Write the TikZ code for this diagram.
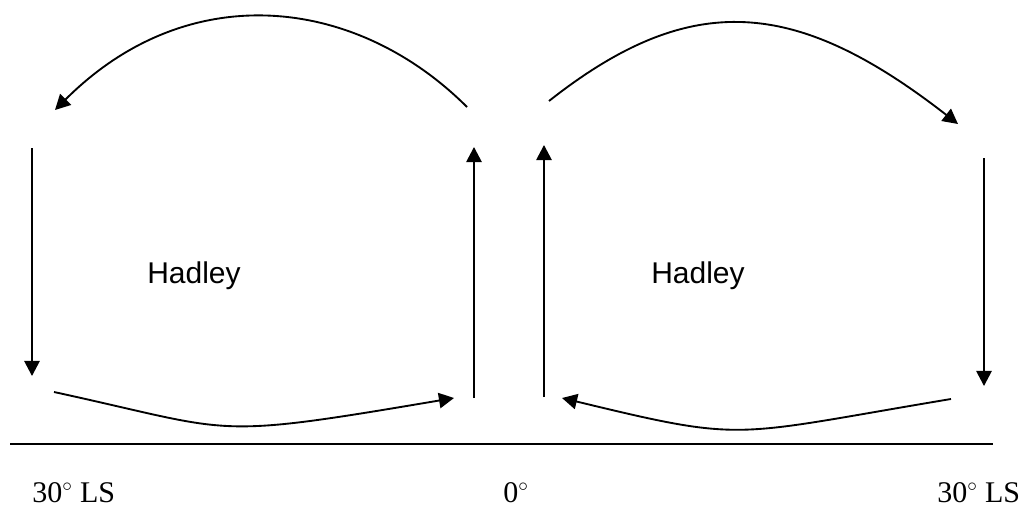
\documentclass[tikz,border=0pt]{standalone}
\usepackage{fontspec}
\setmainfont{Liberation Serif}
\newfontfamily\hadleyfont{Liberation Sans}
\usetikzlibrary{arrows.meta}
\begin{document}
\begin{tikzpicture}[x=0.75pt,y=-0.75pt,
  flow/.style={line width=1.4pt,-{Triangle[length=11.3pt,width=11.5pt]}},
  plain/.style={line width=1.4pt},
  cell/.style={font=\hadleyfont\fontsize{22.5}{27}\selectfont,inner sep=0pt},
  lat/.style={font=\fontsize{22.5}{27}\selectfont,inner sep=0pt,anchor=base west}]
\useasboundingbox (0,0) rectangle (1033,507);
% endpoints
\coordinate (tlS) at (467,107);
\coordinate (tlE) at (55,110);
\coordinate (trS) at (549,101);
\coordinate (trE) at (958,124);
\coordinate (ldS) at (32,148);
\coordinate (ldE) at (32,376);
\coordinate (rdS) at (984,158);
\coordinate (rdE) at (984,386);
\coordinate (u1S) at (474,398);
\coordinate (u1E) at (474,147);
\coordinate (u2S) at (544,397);
\coordinate (u2E) at (544,145);
\coordinate (blS) at (54,392);
\coordinate (blE) at (454,398);
\coordinate (brS) at (951,399);
\coordinate (brE) at (562,398);
\coordinate (gL) at (10,444);
\coordinate (gR) at (993,444);
% upper branches
\draw[flow] (tlS) .. controls (357,-3) and (189,-24) .. (tlE);
\draw[flow] (trS) .. controls (691,-11) and (796,-2) .. (trE);
% vertical branches
\draw[flow] (ldS) -- (ldE);
\draw[flow] (rdS) -- (rdE);
\draw[flow] (u1S) -- (u1E);
\draw[flow] (u2S) -- (u2E);
% lower branches
\draw[flow] (blS) .. controls (238,432) and (206,440) .. (blE);
\draw[flow] (brS) .. controls (729,436) and (748,443) .. (brE);
% ground line
\draw[line width=1.1pt] (gL) -- (gR);
% labels
\node[cell] (h1) at (194,276) {Hadley};
\node[cell] (h2) at (698,276) {Hadley};
\node[lat] (l1) at (32,502) {30$^\circ$ LS};
\node[lat] (l2) at (503,502) {0$^\circ$};
\node[lat] (l3) at (937,502) {30$^\circ$ LS};
\end{tikzpicture}
\end{document}
